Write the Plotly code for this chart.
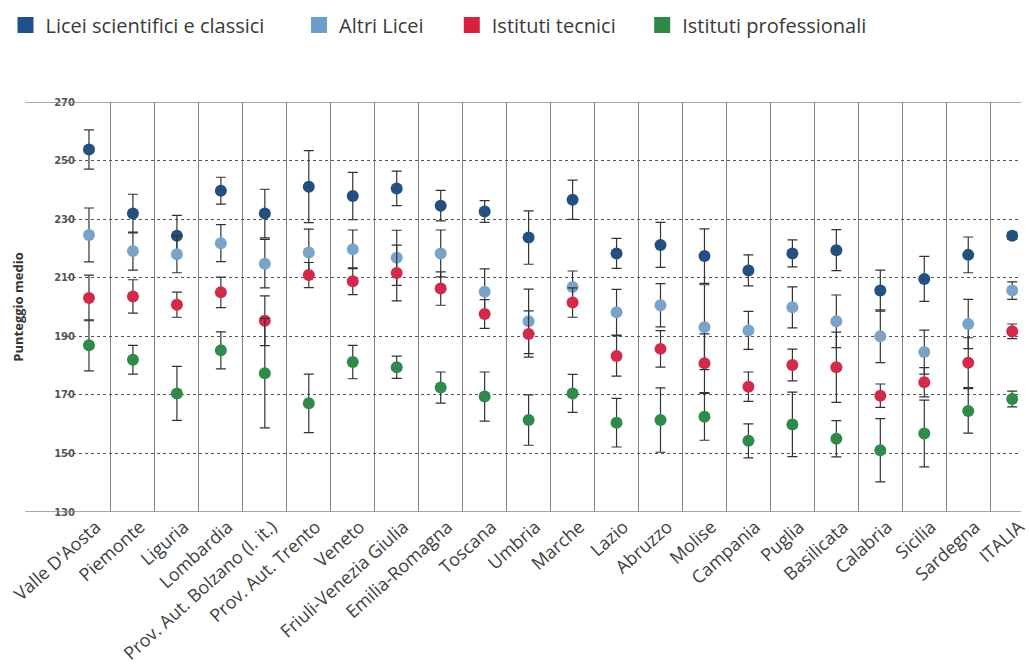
import plotly.graph_objects as go

categories = ["Valle D'Aosta", "Piemonte", "Liguria", "Lombardia", "Prov. Aut. Bolzano (l. it.)",
              "Prov. Aut. Trento", "Veneto", "Friuli-Venezia Giulia", "Emilia-Romagna", "Toscana",
              "Umbria", "Marche", "Lazio", "Abruzzo", "Molise", "Campania", "Puglia", "Basilicata",
              "Calabria", "Sicilia", "Sardegna", "ITALIA"]

series_names = ["Licei scientifici e classici", "Altri Licei", "Istituti tecnici", "Istituti professionali"]

licei_sc = [253.8, 231.9, 224.3, 239.7, 231.9, 241.1, 237.9, 240.5, 234.6, 232.6, 223.7,
            236.6, 218.3, 221.2, 217.4, 212.5, 218.3, 219.4, 205.6, 209.6, 217.8, 224.3]
licei_sc_err = [6.7, 6.6, 7.0, 4.6, 8.3, 12.3, 8.1, 5.9, 5.2, 3.7, 9.1,
                6.7, 5.1, 7.7, 9.3, 5.3, 4.6, 7.0, 7.0, 7.7, 6.1, 1.2]

altri_licei = [224.6, 219.1, 218.0, 221.8, 214.8, 218.6, 219.7, 216.8, 218.3, 205.2, 195.1,
               206.8, 198.2, 200.6, 193.1, 192.0, 199.9, 195.1, 190.0, 184.6, 194.2, 205.6]
altri_licei_err = [9.2, 6.5, 6.3, 6.3, 8.3, 8.0, 6.6, 9.4, 8.0, 7.8, 11.0,
                   5.5, 7.8, 7.4, 14.5, 6.5, 7.0, 9.0, 9.0, 7.5, 8.4, 3.0]

tecnici = [203.1, 203.6, 200.8, 205.0, 195.3, 210.9, 208.8, 211.6, 206.3, 197.6, 190.8,
           201.5, 183.3, 185.7, 180.8, 172.8, 180.2, 179.4, 169.7, 174.3, 181.0, 191.7]
tecnici_err = [7.8, 5.7, 4.3, 5.2, 8.5, 4.3, 4.6, 9.5, 5.7, 4.9, 7.9,
               5.0, 6.9, 6.2, 10.0, 5.0, 5.4, 12.0, 4.0, 5.0, 8.5, 2.5]

professionali = [186.9, 182.0, 170.5, 185.2, 177.4, 167.1, 181.2, 179.4, 172.5, 169.4, 161.4,
                 170.5, 160.5, 161.4, 162.5, 154.3, 159.9, 155.0, 151.1, 156.8, 164.5, 168.6]
professionali_err = [8.7, 4.9, 9.2, 6.3, 18.7, 10.0, 5.7, 3.8, 5.3, 8.4, 8.6,
                     6.5, 8.3, 11.0, 8.0, 5.8, 11.0, 6.2, 10.8, 11.4, 7.6, 2.7]

y_ticks = [130, 150, 170, 190, 210, 230, 250, 270]

colors = ["#23507f", "#7aa3c8", "#d12a4a", "#2f8a4c"]
legend_colors = ["#22508a", "#6c9dcc", "#d9203c", "#2e8a44"]

values = [licei_sc, altri_licei, tecnici, professionali]
errors = [licei_sc_err, altri_licei_err, tecnici_err, professionali_err]

fig = go.Figure()

for name, vals, errs, col in zip(series_names, values, errors, colors):
    fig.add_trace(go.Scatter(
        x=categories, y=vals, mode="markers", name=name, showlegend=False,
        marker=dict(size=12, color=col),
        error_y=dict(type="data", array=errs, visible=True, color="#333333",
                     thickness=1.2, width=5),
    ))

# legend-only traces (square swatches), each in its own legend for positioning
W_PLOT = 1029 - 67
H_PLOT = 512 - 102
legend_px = [5, 301, 455, 647]
legend_keys = ["legend", "legend2", "legend3", "legend4"]
for i, (name, col) in enumerate(zip(series_names, legend_colors)):
    fig.add_trace(go.Scatter(
        x=[None], y=[None], mode="markers", name=name, showlegend=True,
        marker=dict(size=20, symbol="square", color=col),
        legend=legend_keys[i],
    ))

legend_y = 1 + (102 - 25) / H_PLOT
leg_common = dict(orientation="h", yanchor="middle", xanchor="left",
                  font=dict(family="Open Sans", size=20, color="#3a3a3a"),
                  bgcolor="rgba(0,0,0,0)", borderwidth=0)
layout_legends = {}
for i, key in enumerate(legend_keys):
    layout_legends[key] = dict(x=(legend_px[i] - 67) / W_PLOT, y=legend_y, **leg_common)

fig.update_layout(
    width=1029, height=670,
    margin=dict(l=67, r=0, t=102, b=158),
    paper_bgcolor="white", plot_bgcolor="white",
    font=dict(family="Open Sans", color="#333333"),
    xaxis=dict(
        type="category", categoryorder="array", categoryarray=categories,
        range=[-0.5, len(categories) - 0.8],
        tickson="boundaries", showgrid=True, gridcolor="#808080", gridwidth=1,
        ticks="", tickangle=-42, showline=False, zeroline=False,
        ticklabelshift=7,
        tickfont=dict(family="Open Sans", size=18, color="#404040"),
    ),
    yaxis=dict(
        range=[130, 270], tickvals=y_ticks, showgrid=True, gridcolor="#555555",
        griddash="dot", gridwidth=1, zeroline=False, showline=False, ticks="",
        ticklabelstandoff=-9,
        tickfont=dict(family="DejaVu Sans", size=10, color="#555555", weight="bold"),
        title=dict(text="<b>Punteggio medio</b>", standoff=27,
                   font=dict(family="Open Sans", size=13, color="#333333")),
    ),
    **layout_legends,
)

# solid border lines at the top and bottom of the value range
for yv in (y_ticks[0], y_ticks[-1]):
    fig.add_shape(type="line", xref="paper", yref="y",
                  x0=(25 - 67) / W_PLOT, x1=1, y0=yv, y1=yv,
                  line=dict(color="#8c8c8c", width=1.5), layer="above")

fig.write_html("out.html")
